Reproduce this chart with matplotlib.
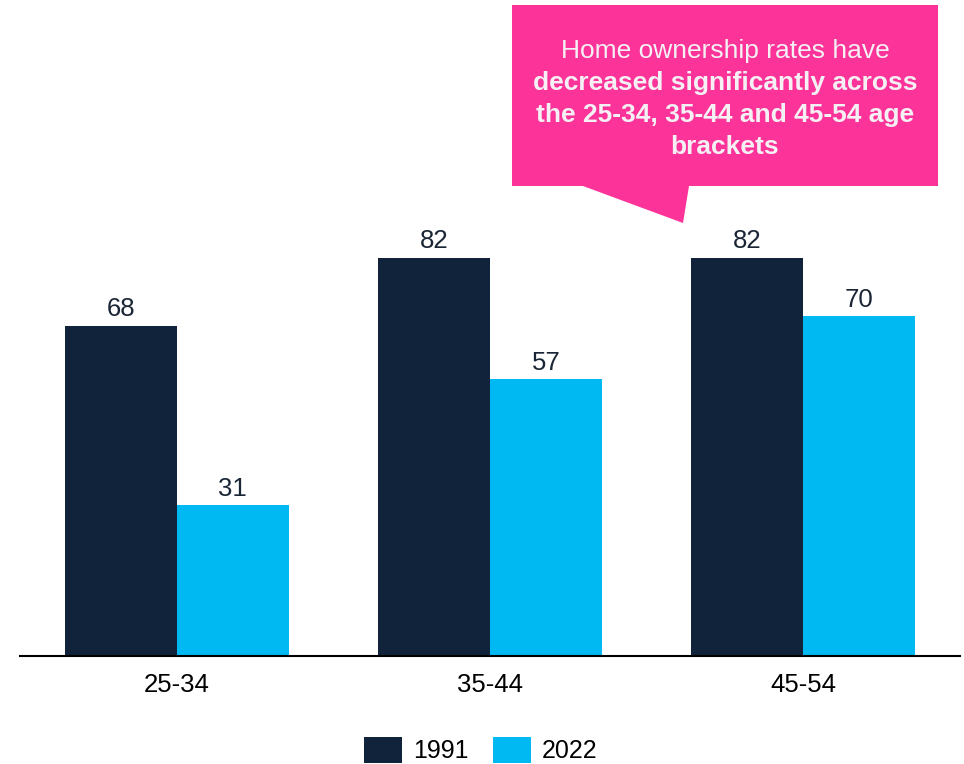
import numpy as np
import matplotlib
matplotlib.use('Agg')
import matplotlib.pyplot as plt
from matplotlib.patches import Polygon

plt.rcParams['font.family'] = ['Liberation Sans', 'DejaVu Sans']

age_groups = ['25-34', '35-44', '45-54']
years = ['1991', '2022']
rates_1991 = [68, 82, 82]
rates_2022 = [31, 57, 70]

dark = '#10233b'
light = '#00b8f2'
pink = '#fc3399'

W, H = 964, 764
fig = plt.figure(figsize=(W / 100, H / 100), dpi=100)
ax = fig.add_axes([20 / W, 108 / H, 940 / W, 656 / H])

x = np.arange(len(age_groups))
width = 0.357
b1 = ax.bar(x - width / 2, rates_1991, width, color=dark, label=years[0])
b2 = ax.bar(x + width / 2, rates_2022, width, color=light, label=years[1])
for rects in (b1, b2):
    ax.bar_label(rects, padding=3, fontsize=18.5, color='#1a2535')

ax.set_xlim(-0.5, 2.5)
ax.set_ylim(0, 135)
ax.set_xticks(x, age_groups)
ax.tick_params(axis='x', length=0, pad=12, labelsize=18.5)
ax.set_yticks([])
for s in ['top', 'left', 'right']:
    ax.spines[s].set_visible(False)
ax.spines['bottom'].set_linewidth(1.5)
ax.spines['bottom'].set_color('black')

fig.legend(loc='center', bbox_to_anchor=(481 / W, 1 - 750 / H), ncols=2, frameon=False,
           fontsize=18, handlelength=1.5, handleheight=1.28, handletextpad=0.45,
           columnspacing=1.0)

# callout box
pts = [(512, 5), (938, 5), (938, 186), (689, 186), (683, 223), (583, 186), (512, 186)]
pts = [(px / W, 1 - py / H) for px, py in pts]
fig.patches.append(Polygon(pts, closed=True, transform=fig.transFigure,
                           facecolor=pink, edgecolor='none'))
lines = [('Home ownership rates have', 'normal'),
         ('decreased significantly across', 'bold'),
         ('the 25-34, 35-44 and 45-54 age', 'bold'),
         ('brackets', 'bold')]
for i, (txt, wt) in enumerate(lines):
    fig.text(725 / W, 1 - (51 + 32 * i) / H, txt, ha='center', va='center',
             fontsize=19, fontweight=wt, color='#f5f0f4')

fig.savefig('out.png', dpi=100)
